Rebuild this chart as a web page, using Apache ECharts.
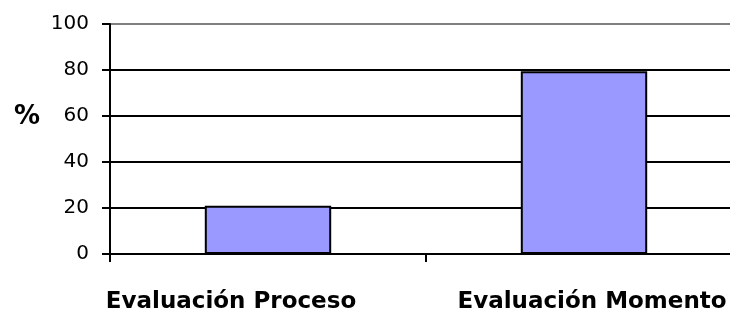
<!DOCTYPE html>
<html>
<head>
<meta charset="utf-8">
<script src="https://cdn.jsdelivr.net/npm/echarts@6/dist/echarts.min.js"></script>
<style>
html,body{margin:0;padding:0;background:#fff;}
#c{width:730px;height:316px;}
</style>
</head>
<body>
<div id="c"></div>
<script>
const categories = ['Evaluación Proceso', 'Evaluación Momento'];
const values = [21, 79.5];
const yAxisName = '%';

const chart = echarts.init(document.getElementById('c'), null, {renderer: 'canvas'});
chart.setOption({
  animation: false,
  backgroundColor: '#ffffff',
  grid: {left: 110, right: -12, top: 24, bottom: 62, containLabel: false, outerBoundsMode: 'none'},
  xAxis: {
    type: 'category',
    data: categories,
    boundaryGap: true,
    axisLine: {show: true, lineStyle: {color: '#000', width: 2}},
    axisTick: {show: true, length: 8, lineStyle: {color: '#000', width: 2}},
    axisLabel: {
      margin: 37,
      hideOverlap: false,
      formatter: function (v, i) { return i === 0 ? '{p|' + v + '}' : '{m|' + v + '}'; },
      rich: {
        p: {fontFamily: 'DejaVu Sans', fontWeight: 'bold', fontSize: 23, color: '#000', padding: [0, 74, 0, 0]},
        m: {fontFamily: 'DejaVu Sans', fontWeight: 'bold', fontSize: 23, color: '#000', padding: [0, 0, 0, 16]}
      }
    },
    splitLine: {show: false}
  },
  yAxis: {
    type: 'value',
    min: 0, max: 100, interval: 20,
    name: '{a|' + yAxisName + '}',
    nameLocation: 'middle',
    nameRotate: 0,
    nameGap: 70,
    nameTextStyle: {
      rich: {a: {fontFamily: 'DejaVu Sans', fontWeight: 'bold', fontSize: 26, color: '#000', padding: [0, 0, 44, 0]}}
    },
    axisLine: {show: true, lineStyle: {color: '#000', width: 2}},
    axisTick: {show: true, length: 8, lineStyle: {color: '#000', width: 2}},
    axisLabel: {margin: 21, fontFamily: 'DejaVu Sans', fontSize: 20, color: '#000'},
    splitLine: {show: true, lineStyle: {color: ['#000', '#000', '#000', '#000', '#000', '#808080'], width: 2}}
  },
  series: [{
    type: 'bar',
    data: values,
    barWidth: '40%',
    itemStyle: {color: '#9999FF', borderColor: '#000', borderWidth: 2}
  }]
});
</script>
</body>
</html>
